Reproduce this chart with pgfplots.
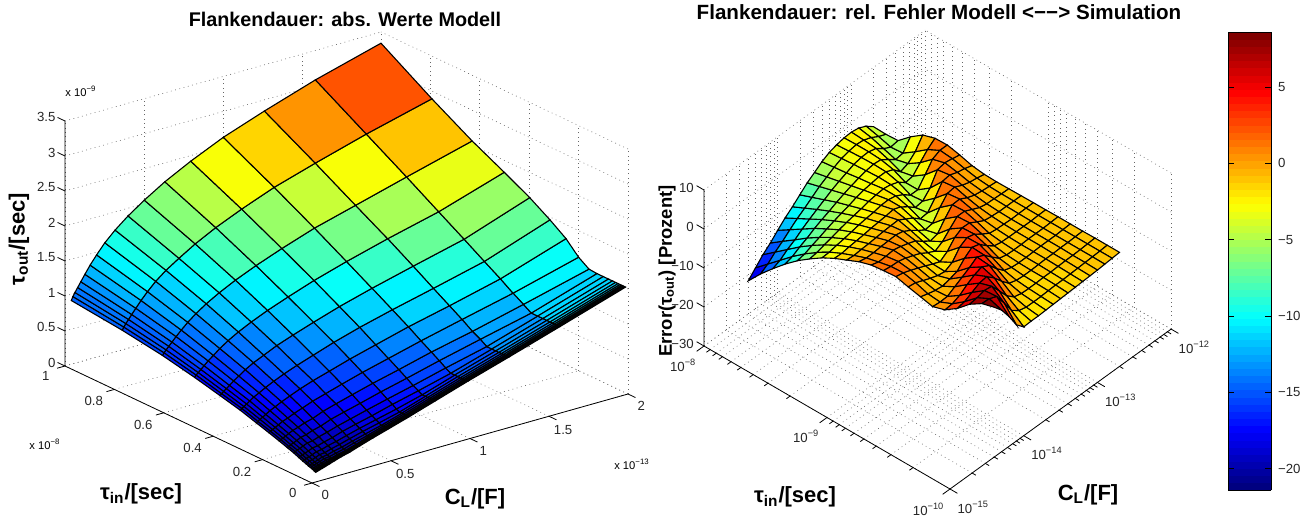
\documentclass[border=0pt]{standalone}
\usepackage{pgfplots}
\usepackage{fontspec}
\setmainfont{Liberation Sans}
\pgfplotsset{compat=1.18}
\pgfplotsset{colormap/jet, colormap={jetsf}{samples of colormap=(64 of jet)}}
\pgfplotsset{common/.style={
  colormap name=jetsf, colormap access=piecewise constant,
  axis line style={draw=none}, grid=major,
  grid style={black!60, line width=0.3pt, dash pattern=on 0.4pt off 1.8pt},
  minor grid style={black!60, line width=0.3pt, dash pattern=on 0.4pt off 1.8pt},
  tick align=outside, major tick length=3pt, minor tick length=1.6pt,
  tick style={draw=none},
  tick label style={font=\fontsize{6.6}{7}\selectfont, text=black!85},
  /pgf/number format/assume math mode=true,
  clip=false}}
\pgfplotsset{surfstyle/.style={surf, shader=flat corner, draw=black, line width=0.55pt,
  z buffer=sort, mesh/ordering=y varies, mesh/rows=21, mesh/cols=18}}
\tikzset{axl/.style={black,line width=0.4pt}}
\begin{document}
\begin{tikzpicture}[x=0.5pt,y=0.5pt]
\useasboundingbox (0,0) rectangle (1306,516);
\begin{axis}[common, anchor=south west, at={(32.5pt,16.5pt)},
  x={(79pt,22.25pt)}, y={(-123.5pt,58.5pt)}, z={(0pt,35pt)},
  xmin=0,xmax=2,ymin=0,ymax=1,zmin=0,zmax=3.5,
  xtick={0,0.5,1,1.5,2}, ytick={0,0.2,0.4,0.6,0.8,1}, ztick={0,0.5,1,1.5,2,2.5,3,3.5},
  xticklabels={0,0.5,1,1.5,2}, yticklabels={0,0.2,0.4,0.6,0.8,1}, zticklabels={0,0.5,1,1.5,2,2.5,3,3.5},
  xticklabel style={yshift=1.5pt}, yticklabel style={xshift=-2pt,yshift=2pt}, zticklabel style={xshift=1.5pt},
  point meta min=0.11, point meta max=3.34]
\addplot3[surfstyle] table[row sep=\\, header=false] {
0.04 0.01 .11\\0.04 0.013 .114\\0.04 0.016 .118\\0.04 0.02 .126\\0.04 0.025 .134\\0.04 0.032 .142\\0.04 0.04 .15\\0.04 0.05 .166\\0.04 0.063 .182\\0.04 0.079 .206\\0.04 0.1 .238\\0.04 0.126 .27\\0.04 0.158 .31\\0.04 0.2 .358\\0.04 0.251 .414\\0.04 0.316 .486\\0.04 0.398 .558\\0.04 0.501 .646\\0.04 0.631 .742\\0.04 0.794 .83\\0.04 1 .91\\
0.05 0.01 .12\\0.05 0.013 .124\\0.05 0.016 .128\\0.05 0.02 .137\\0.05 0.025 .145\\0.05 0.032 .153\\0.05 0.04 .161\\0.05 0.05 .177\\0.05 0.063 .194\\0.05 0.079 .218\\0.05 0.1 .25\\0.05 0.126 .283\\0.05 0.158 .325\\0.05 0.2 .375\\0.05 0.251 .43\\0.05 0.316 .506\\0.05 0.398 .58\\0.05 0.501 .674\\0.05 0.631 .775\\0.05 0.794 .87\\0.05 1 .96\\
0.063 0.01 .13\\0.063 0.013 .134\\0.063 0.016 .139\\0.063 0.02 .148\\0.063 0.025 .156\\0.063 0.032 .164\\0.063 0.04 .173\\0.063 0.05 .19\\0.063 0.063 .207\\0.063 0.079 .231\\0.063 0.1 .265\\0.063 0.126 .298\\0.063 0.158 .34\\0.063 0.2 .391\\0.063 0.251 .451\\0.063 0.316 .527\\0.063 0.398 .605\\0.063 0.501 .702\\0.063 0.631 .808\\0.063 0.794 .911\\0.063 1 1.01\\
0.08 0.01 .14\\0.08 0.013 .145\\0.08 0.016 .149\\0.08 0.02 .159\\0.08 0.025 .167\\0.08 0.032 .176\\0.08 0.04 .185\\0.08 0.05 .201\\0.08 0.063 .219\\0.08 0.079 .245\\0.08 0.1 .279\\0.08 0.126 .314\\0.08 0.158 .357\\0.08 0.2 .41\\0.08 0.251 .472\\0.08 0.316 .551\\0.08 0.398 .634\\0.08 0.501 .735\\0.08 0.631 .848\\0.08 0.794 .959\\0.08 1 1.07\\
0.1 0.01 .155\\0.1 0.013 .16\\0.1 0.016 .165\\0.1 0.02 .175\\0.1 0.025 .184\\0.1 0.032 .192\\0.1 0.04 .202\\0.1 0.05 .219\\0.1 0.063 .238\\0.1 0.079 .263\\0.1 0.1 .299\\0.1 0.126 .334\\0.1 0.158 .38\\0.1 0.2 .434\\0.1 0.251 .499\\0.1 0.316 .581\\0.1 0.398 .667\\0.1 0.501 .776\\0.1 0.631 .896\\0.1 0.794 1.017\\0.1 1 1.14\\
0.126 0.01 .175\\0.126 0.013 .18\\0.126 0.016 .186\\0.126 0.02 .196\\0.126 0.025 .206\\0.126 0.032 .215\\0.126 0.04 .225\\0.126 0.05 .243\\0.126 0.063 .262\\0.126 0.079 .289\\0.126 0.1 .325\\0.126 0.126 .363\\0.126 0.158 .409\\0.126 0.2 .467\\0.126 0.251 .535\\0.126 0.316 .622\\0.126 0.398 .714\\0.126 0.501 .828\\0.126 0.631 .958\\0.126 0.794 1.09\\0.126 1 1.23\\
0.159 0.01 .2\\0.159 0.013 .2\\0.159 0.016 .203\\0.159 0.02 .208\\0.159 0.025 .213\\0.159 0.032 .223\\0.159 0.04 .235\\0.159 0.05 .25\\0.159 0.063 .274\\0.159 0.079 .3\\0.159 0.1 .336\\0.159 0.126 .379\\0.159 0.158 .433\\0.159 0.2 .494\\0.159 0.251 .57\\0.159 0.316 .66\\0.159 0.398 .763\\0.159 0.501 .886\\0.159 0.631 1.03\\0.159 0.794 1.18\\0.159 1 1.34\\
0.2 0.01 .23\\0.2 0.013 .23\\0.2 0.016 .23\\0.2 0.02 .234\\0.2 0.025 .238\\0.2 0.032 .245\\0.2 0.04 .262\\0.2 0.05 .279\\0.2 0.063 .303\\0.2 0.079 .328\\0.2 0.1 .368\\0.2 0.126 .413\\0.2 0.158 .469\\0.2 0.2 .535\\0.2 0.251 .615\\0.2 0.316 .71\\0.2 0.398 .828\\0.2 0.501 .957\\0.2 0.631 1.114\\0.2 0.794 1.28\\0.2 1 1.46\\
0.252 0.01 .26\\0.252 0.013 .26\\0.252 0.016 .26\\0.252 0.02 .26\\0.252 0.025 .266\\0.252 0.032 .274\\0.252 0.04 .287\\0.252 0.05 .308\\0.252 0.063 .33\\0.252 0.079 .358\\0.252 0.1 .4\\0.252 0.126 .444\\0.252 0.158 .5\\0.252 0.2 .578\\0.252 0.251 .665\\0.252 0.316 .767\\0.252 0.398 .894\\0.252 0.501 1.037\\0.252 0.631 1.206\\0.252 0.794 1.395\\0.252 1 1.6\\
0.317 0.01 .31\\0.317 0.013 .31\\0.317 0.016 .31\\0.317 0.02 .31\\0.317 0.025 .31\\0.317 0.032 .32\\0.317 0.04 .33\\0.317 0.05 .35\\0.317 0.063 .373\\0.317 0.079 .406\\0.317 0.1 .446\\0.317 0.126 .5\\0.317 0.158 .56\\0.317 0.2 .635\\0.317 0.251 .725\\0.317 0.316 .83\\0.317 0.398 .96\\0.317 0.501 1.12\\0.317 0.631 1.305\\0.317 0.794 1.51\\0.317 1 1.74\\
0.399 0.01 .37\\0.399 0.013 .37\\0.399 0.016 .37\\0.399 0.02 .37\\0.399 0.025 .37\\0.399 0.032 .37\\0.399 0.04 .38\\0.399 0.05 .4\\0.399 0.063 .423\\0.399 0.079 .454\\0.399 0.1 .495\\0.399 0.126 .55\\0.399 0.158 .615\\0.399 0.2 .69\\0.399 0.251 .79\\0.399 0.316 .9\\0.399 0.398 1.045\\0.399 0.501 1.21\\0.399 0.631 1.41\\0.399 0.794 1.63\\0.399 1 1.89\\
0.502 0.01 .44\\0.502 0.013 .44\\0.502 0.016 .44\\0.502 0.02 .44\\0.502 0.025 .44\\0.502 0.032 .44\\0.502 0.04 .44\\0.502 0.05 .456\\0.502 0.063 .48\\0.502 0.079 .51\\0.502 0.1 .556\\0.502 0.126 .61\\0.502 0.158 .68\\0.502 0.2 .76\\0.502 0.251 .86\\0.502 0.316 .98\\0.502 0.398 1.13\\0.502 0.501 1.31\\0.502 0.631 1.525\\0.502 0.794 1.77\\0.502 1 2.05\\
0.632 0.01 .53\\0.632 0.013 .53\\0.632 0.016 .53\\0.632 0.02 .53\\0.632 0.025 .53\\0.632 0.032 .53\\0.632 0.04 .53\\0.632 0.05 .53\\0.632 0.063 .55\\0.632 0.079 .59\\0.632 0.1 .63\\0.632 0.126 .69\\0.632 0.158 .76\\0.632 0.2 .845\\0.632 0.251 .95\\0.632 0.316 1.08\\0.632 0.398 1.23\\0.632 0.501 1.42\\0.632 0.631 1.65\\0.632 0.794 1.92\\0.632 1 2.23\\
0.796 0.01 .65\\0.796 0.013 .65\\0.796 0.016 .65\\0.796 0.02 .65\\0.796 0.025 .65\\0.796 0.032 .65\\0.796 0.04 .65\\0.796 0.05 .65\\0.796 0.063 .65\\0.796 0.079 .68\\0.796 0.1 .72\\0.796 0.126 .78\\0.796 0.158 .85\\0.796 0.2 .94\\0.796 0.251 1.05\\0.796 0.316 1.19\\0.796 0.398 1.35\\0.796 0.501 1.55\\0.796 0.631 1.79\\0.796 0.794 2.08\\0.796 1 2.42\\
1.002 0.01 .8\\1.002 0.013 .8\\1.002 0.016 .8\\1.002 0.02 .8\\1.002 0.025 .8\\1.002 0.032 .8\\1.002 0.04 .8\\1.002 0.05 .8\\1.002 0.063 .8\\1.002 0.079 .8\\1.002 0.1 .84\\1.002 0.126 .9\\1.002 0.158 .97\\1.002 0.2 1.06\\1.002 0.251 1.175\\1.002 0.316 1.31\\1.002 0.398 1.48\\1.002 0.501 1.69\\1.002 0.631 1.95\\1.002 0.794 2.26\\1.002 1 2.63\\
1.262 0.01 .98\\1.262 0.013 .98\\1.262 0.016 .98\\1.262 0.02 .98\\1.262 0.025 .98\\1.262 0.032 .98\\1.262 0.04 .98\\1.262 0.05 .98\\1.262 0.063 .98\\1.262 0.079 .98\\1.262 0.1 .98\\1.262 0.126 1.04\\1.262 0.158 1.1\\1.262 0.2 1.2\\1.262 0.251 1.31\\1.262 0.316 1.45\\1.262 0.398 1.63\\1.262 0.501 1.85\\1.262 0.631 2.11\\1.262 0.794 2.44\\1.262 1 2.84\\
1.585 0.01 1.21\\1.585 0.013 1.21\\1.585 0.016 1.21\\1.585 0.02 1.21\\1.585 0.025 1.21\\1.585 0.032 1.21\\1.585 0.04 1.21\\1.585 0.05 1.21\\1.585 0.063 1.21\\1.585 0.079 1.21\\1.585 0.1 1.21\\1.585 0.126 1.21\\1.585 0.158 1.28\\1.585 0.2 1.37\\1.585 0.251 1.49\\1.585 0.316 1.63\\1.585 0.398 1.81\\1.585 0.501 2.03\\1.585 0.631 2.31\\1.585 0.794 2.65\\1.585 1 3.08\\
2 0.01 1.51\\2 0.013 1.51\\2 0.016 1.51\\2 0.02 1.51\\2 0.025 1.51\\2 0.032 1.51\\2 0.04 1.51\\2 0.05 1.51\\2 0.063 1.51\\2 0.079 1.51\\2 0.1 1.51\\2 0.126 1.51\\2 0.158 1.52\\2 0.2 1.62\\2 0.251 1.80\\2 0.316 1.96\\2 0.398 2.14\\2 0.501 2.33\\2 0.631 2.56\\2 0.794 2.89\\2 1 3.34\\
};
\draw[axl] (axis cs:0,0,0)--(axis cs:2,0,0) (axis cs:0,0,0)--(axis cs:0,1,0) (axis cs:0,1,0)--(axis cs:0,1,3.5);
\pgfplotsinvokeforeach{0,0.5,1,1.5,2}{\draw[axl] (axis cs:#1,0,0)--(axis cs:#1,-0.03,0);}
\pgfplotsinvokeforeach{0,0.2,0.4,0.6,0.8,1}{\draw[axl] (axis cs:0,#1,0)--(axis cs:-0.05,#1,0);}
\pgfplotsinvokeforeach{0,0.5,1,1.5,2,2.5,3,3.5}{\draw[axl] (axis cs:0,1,#1)--(axis cs:0,1.03,#1);}
\end{axis}
\begin{axis}[common, anchor=south west, at={(352pt,13.5pt)},
  x={(36.85pt,26.65pt)}, y={(-61.5pt,35.75pt)}, z={(0pt,1.95pt)},
  xmin=-15,xmax=-12,ymin=-10,ymax=-8,zmin=-30,zmax=10,
  xtick={-15,-14,-13,-12}, ytick={-10,-9,-8}, ztick={-30,-20,-10,0,10},
  xticklabels={10\textsuperscript{−15},10\textsuperscript{−14},10\textsuperscript{−13},10\textsuperscript{−12}},
  yticklabels={10\textsuperscript{−10},10\textsuperscript{−9},10\textsuperscript{−8}},
  zticklabels={−30,−20,−10,0,10},
  xticklabel style={xshift=3pt,yshift=3pt}, yticklabel style={xshift=-3pt,yshift=2pt}, zticklabel style={xshift=1pt},
  minor xtick={-14.7,-14.52,-14.4,-14.3,-14.22,-14.15,-14.1,-14.05,-13.7,-13.52,-13.4,-13.3,-13.22,-13.15,-13.1,-13.05,-12.7,-12.52,-12.4,-12.3,-12.22,-12.15,-12.1,-12.05},
  minor ytick={-9.7,-9.52,-9.4,-9.3,-9.22,-9.15,-9.1,-9.05,-8.7,-8.52,-8.4,-8.3,-8.22,-8.15,-8.1,-8.05},
  xminorgrids, yminorgrids,
  point meta min=-21.5, point meta max=8.5]
\addplot3[surfstyle] table[row sep=\\, header=false] {
-14.4 -10 8.4\\-14.4 -9.9 7.5\\-14.4 -9.8 5.5\\-14.4 -9.7 2.6\\-14.4 -9.6 .4\\-14.4 -9.5 -.6\\-14.4 -9.4 .1\\-14.4 -9.3 .8\\-14.4 -9.2 1.6\\-14.4 -9.1 1.3\\-14.4 -9 .9\\-14.4 -8.9 -.1\\-14.4 -8.8 -1.5\\-14.4 -8.7 -2.9\\-14.4 -8.6 -4.6\\-14.4 -8.5 -6.7\\-14.4 -8.4 -9\\-14.4 -8.3 -11.7\\-14.4 -8.2 -14.7\\-14.4 -8.1 -17.9\\-14.4 -8 -21.5\\
-14.3 -10 6.3\\-14.3 -9.9 7.4\\-14.3 -9.8 5.8\\-14.3 -9.7 3\\-14.3 -9.6 .6\\-14.3 -9.5 -.8\\-14.3 -9.4 -.5\\-14.3 -9.3 .5\\-14.3 -9.2 1.2\\-14.3 -9.1 1\\-14.3 -9 .3\\-14.3 -8.9 -.5\\-14.3 -8.8 -1.7\\-14.3 -8.7 -3\\-14.3 -8.6 -4.5\\-14.3 -8.5 -6.4\\-14.3 -8.4 -8.6\\-14.3 -8.3 -11.1\\-14.3 -8.2 -13.9\\-14.3 -8.1 -16.7\\-14.3 -8 -19.5\\
-14.2 -10 3.3\\-14.2 -9.9 6.6\\-14.2 -9.8 6.3\\-14.2 -9.7 4\\-14.2 -9.6 1.4\\-14.2 -9.5 -.7\\-14.2 -9.4 -1\\-14.2 -9.3 -.3\\-14.2 -9.2 .5\\-14.2 -9.1 .9\\-14.2 -9 .4\\-14.2 -8.9 -.5\\-14.2 -8.8 -1.5\\-14.2 -8.7 -2.7\\-14.2 -8.6 -4.1\\-14.2 -8.5 -5.8\\-14.2 -8.4 -7.8\\-14.2 -8.3 -10\\-14.2 -8.2 -12.5\\-14.2 -8.1 -15\\-14.2 -8 -17.5\\
-14.1 -10 -.2\\-14.1 -9.9 3.6\\-14.1 -9.8 6\\-14.1 -9.7 5\\-14.1 -9.6 2.8\\-14.1 -9.5 .4\\-14.1 -9.4 -1.3\\-14.1 -9.3 -1.1\\-14.1 -9.2 -.3\\-14.1 -9.1 .4\\-14.1 -9 .6\\-14.1 -8.9 -.3\\-14.1 -8.8 -1.4\\-14.1 -8.7 -2.5\\-14.1 -8.6 -3.8\\-14.1 -8.5 -5.3\\-14.1 -8.4 -7.1\\-14.1 -8.3 -9.1\\-14.1 -8.2 -11.4\\-14.1 -8.1 -13.6\\-14.1 -8 -15.9\\
-14 -10 -2.1\\-14 -9.9 .3\\-14 -9.8 3.5\\-14 -9.7 5.3\\-14 -9.6 3.9\\-14 -9.5 1.5\\-14 -9.4 -.8\\-14 -9.3 -1.8\\-14 -9.2 -1.1\\-14 -9.1 -.3\\-14 -9 .2\\-14 -8.9 -.2\\-14 -8.8 -1.2\\-14 -8.7 -2.3\\-14 -8.6 -3.4\\-14 -8.5 -4.7\\-14 -8.4 -6.3\\-14 -8.3 -8\\-14 -8.2 -10\\-14 -8.1 -12\\-14 -8 -14\\
-13.9 -10 -2\\-13.9 -9.9 -1.1\\-13.9 -9.8 .9\\-13.9 -9.7 3.6\\-13.9 -9.6 4.6\\-13.9 -9.5 2.6\\-13.9 -9.4 -.2\\-13.9 -9.3 -2.1\\-13.9 -9.2 -2\\-13.9 -9.1 -1.1\\-13.9 -9 -.4\\-13.9 -8.9 -.1\\-13.9 -8.8 -1\\-13.9 -8.7 -2\\-13.9 -8.6 -3\\-13.9 -8.5 -4.2\\-13.9 -8.4 -5.6\\-13.9 -8.3 -7.1\\-13.9 -8.2 -8.8\\-13.9 -8.1 -10.5\\-13.9 -8 -12.2\\
-13.8 -10 -2\\-13.8 -9.9 -1.6\\-13.8 -9.8 -.8\\-13.8 -9.7 1.4\\-13.8 -9.6 3.6\\-13.8 -9.5 3.9\\-13.8 -9.4 1.8\\-13.8 -9.3 -1.1\\-13.8 -9.2 -2.8\\-13.8 -9.1 -2.3\\-13.8 -9 -1.1\\-13.8 -8.9 -.5\\-13.8 -8.8 -.9\\-13.8 -8.7 -1.8\\-13.8 -8.6 -2.7\\-13.8 -8.5 -3.8\\-13.8 -8.4 -5\\-13.8 -8.3 -6.3\\-13.8 -8.2 -7.7\\-13.8 -8.1 -9.2\\-13.8 -8 -10.7\\
-13.7 -10 -1.9\\-13.7 -9.9 -1.6\\-13.7 -9.8 -1.3\\-13.7 -9.7 -.5\\-13.7 -9.6 1.4\\-13.7 -9.5 3\\-13.7 -9.4 3.2\\-13.7 -9.3 1.4\\-13.7 -9.2 -1.5\\-13.7 -9.1 -3.3\\-13.7 -9 -2.6\\-13.7 -8.9 -1.6\\-13.7 -8.8 -.8\\-13.7 -8.7 -1.6\\-13.7 -8.6 -2.5\\-13.7 -8.5 -3.4\\-13.7 -8.4 -4.4\\-13.7 -8.3 -5.4\\-13.7 -8.2 -6.6\\-13.7 -8.1 -7.8\\-13.7 -8 -9\\
-13.6 -10 -1.8\\-13.6 -9.9 -1.6\\-13.6 -9.8 -1.4\\-13.6 -9.7 -1.1\\-13.6 -9.6 -.4\\-13.6 -9.5 1.2\\-13.6 -9.4 2.6\\-13.6 -9.3 2.5\\-13.6 -9.2 .7\\-13.6 -9.1 -2.2\\-13.6 -9 -3.9\\-13.6 -8.9 -3\\-13.6 -8.8 -1.9\\-13.6 -8.7 -1.3\\-13.6 -8.6 -2.1\\-13.6 -8.5 -2.9\\-13.6 -8.4 -3.7\\-13.6 -8.3 -4.6\\-13.6 -8.2 -5.5\\-13.6 -8.1 -6.4\\-13.6 -8 -7.3\\
-13.5 -10 -1.7\\-13.5 -9.9 -1.5\\-13.5 -9.8 -1.4\\-13.5 -9.7 -1.3\\-13.5 -9.6 -1\\-13.5 -9.5 -.5\\-13.5 -9.4 .9\\-13.5 -9.3 2\\-13.5 -9.2 1.8\\-13.5 -9.1 -.3\\-13.5 -9 -3.4\\-13.5 -8.9 -4.2\\-13.5 -8.8 -3\\-13.5 -8.7 -2\\-13.5 -8.6 -2\\-13.5 -8.5 -2.6\\-13.5 -8.4 -3.2\\-13.5 -8.3 -3.9\\-13.5 -8.2 -4.6\\-13.5 -8.1 -5.3\\-13.5 -8 -6\\
-13.4 -10 -1.6\\-13.4 -9.9 -1.4\\-13.4 -9.8 -1.3\\-13.4 -9.7 -1.3\\-13.4 -9.6 -1.2\\-13.4 -9.5 -1\\-13.4 -9.4 -.5\\-13.4 -9.3 .7\\-13.4 -9.2 1.7\\-13.4 -9.1 1.5\\-13.4 -9 -.9\\-13.4 -8.9 -3.9\\-13.4 -8.8 -4.6\\-13.4 -8.7 -3.3\\-13.4 -8.6 -2.4\\-13.4 -8.5 -2.4\\-13.4 -8.4 -2.9\\-13.4 -8.3 -3.3\\-13.4 -8.2 -3.8\\-13.4 -8.1 -4.2\\-13.4 -8 -4.6\\
-13.3 -10 -1.5\\-13.3 -9.9 -1.4\\-13.3 -9.8 -1.3\\-13.3 -9.7 -1.2\\-13.3 -9.6 -1.2\\-13.3 -9.5 -1.1\\-13.3 -9.4 -.9\\-13.3 -9.3 -.5\\-13.3 -9.2 .6\\-13.3 -9.1 1.5\\-13.3 -9 1.3\\-13.3 -8.9 -1.2\\-13.3 -8.8 -4.4\\-13.3 -8.7 -4.9\\-13.3 -8.6 -3.4\\-13.3 -8.5 -2.7\\-13.3 -8.4 -2.6\\-13.3 -8.3 -2.8\\-13.3 -8.2 -3\\-13.3 -8.1 -3.3\\-13.3 -8 -3.6\\
-13.2 -10 -1.4\\-13.2 -9.9 -1.3\\-13.2 -9.8 -1.2\\-13.2 -9.7 -1.1\\-13.2 -9.6 -1.1\\-13.2 -9.5 -1.1\\-13.2 -9.4 -1\\-13.2 -9.3 -.8\\-13.2 -9.2 -.4\\-13.2 -9.1 .6\\-13.2 -9 1.4\\-13.2 -8.9 1\\-13.2 -8.8 -2\\-13.2 -8.7 -4.6\\-13.2 -8.6 -4.9\\-13.2 -8.5 -3.4\\-13.2 -8.4 -2.6\\-13.2 -8.3 -2.5\\-13.2 -8.2 -2.6\\-13.2 -8.1 -2.8\\-13.2 -8 -3\\
-13.1 -10 -1.3\\-13.1 -9.9 -1.2\\-13.1 -9.8 -1.1\\-13.1 -9.7 -1.1\\-13.1 -9.6 -1\\-13.1 -9.5 -1\\-13.1 -9.4 -1\\-13.1 -9.3 -.9\\-13.1 -9.2 -.7\\-13.1 -9.1 -.3\\-13.1 -9 .4\\-13.1 -8.9 1.3\\-13.1 -8.8 .9\\-13.1 -8.7 -2.6\\-13.1 -8.6 -4.9\\-13.1 -8.5 -4.9\\-13.1 -8.4 -3.4\\-13.1 -8.3 -2.7\\-13.1 -8.2 -2.5\\-13.1 -8.1 -2.5\\-13.1 -8 -2.6\\
-13 -10 -1.2\\-13 -9.9 -1.1\\-13 -9.8 -1.1\\-13 -9.7 -1\\-13 -9.6 -1\\-13 -9.5 -1\\-13 -9.4 -1\\-13 -9.3 -1\\-13 -9.2 -.9\\-13 -9.1 -.7\\-13 -9 -.3\\-13 -8.9 .4\\-13 -8.8 1.2\\-13 -8.7 .7\\-13 -8.6 -2.4\\-13 -8.5 -4.6\\-13 -8.4 -5.3\\-13 -8.3 -4\\-13 -8.2 -3\\-13 -8.1 -2.7\\-13 -8 -2.5\\
-12.9 -10 -1.05\\-12.9 -9.9 -1\\-12.9 -9.8 -1\\-12.9 -9.7 -1\\-12.9 -9.6 -1\\-12.9 -9.5 -1\\-12.9 -9.4 -1\\-12.9 -9.3 -.95\\-12.9 -9.2 -.9\\-12.9 -9.1 -.8\\-12.9 -9 -.6\\-12.9 -8.9 -.2\\-12.9 -8.8 .5\\-12.9 -8.7 1.1\\-12.9 -8.6 .2\\-12.9 -8.5 -2.5\\-12.9 -8.4 -4.6\\-12.9 -8.3 -5.4\\-12.9 -8.2 -4.4\\-12.9 -8.1 -3.4\\-12.9 -8 -2.8\\
-12.8 -10 -.9\\-12.8 -9.9 -.9\\-12.8 -9.8 -.9\\-12.8 -9.7 -.9\\-12.8 -9.6 -.9\\-12.8 -9.5 -.9\\-12.8 -9.4 -.9\\-12.8 -9.3 -.9\\-12.8 -9.2 -.9\\-12.8 -9.1 -.9\\-12.8 -9 -.8\\-12.8 -8.9 -.5\\-12.8 -8.8 .1\\-12.8 -8.7 .8\\-12.8 -8.6 1.1\\-12.8 -8.5 -.5\\-12.8 -8.4 -2.9\\-12.8 -8.3 -5.1\\-12.8 -8.2 -5.4\\-12.8 -8.1 -4.5\\-12.8 -8 -3.7\\
-12.7 -10 -.75\\-12.7 -9.9 -.75\\-12.7 -9.8 -.75\\-12.7 -9.7 -.8\\-12.7 -9.6 -.8\\-12.7 -9.5 -.8\\-12.7 -9.4 -.85\\-12.7 -9.3 -.85\\-12.7 -9.2 -.9\\-12.7 -9.1 -.95\\-12.7 -9 -1\\-12.7 -8.9 -.9\\-12.7 -8.8 -.5\\-12.7 -8.7 .4\\-12.7 -8.6 1.1\\-12.7 -8.5 1\\-12.7 -8.4 0\\-12.7 -8.3 -2.3\\-12.7 -8.2 -5.1\\-12.7 -8.1 -5.3\\-12.7 -8 -5.2\\
};
\draw[axl] (axis cs:-15,-10,-30)--(axis cs:-12,-10,-30) (axis cs:-15,-10,-30)--(axis cs:-15,-8,-30) (axis cs:-15,-8,-30)--(axis cs:-15,-8,10);
\pgfplotsinvokeforeach{-15,-14,-13,-12}{\draw[axl] (axis cs:#1,-10,-30)--(axis cs:#1,-10.06,-30);}
\pgfplotsinvokeforeach{-14.7,-14.52,-14.4,-14.3,-14.22,-14.15,-14.1,-14.05,-13.7,-13.52,-13.4,-13.3,-13.22,-13.15,-13.1,-13.05,-12.7,-12.52,-12.4,-12.3,-12.22,-12.15,-12.1,-12.05}{\draw[axl] (axis cs:#1,-10,-30)--(axis cs:#1,-10.03,-30);}
\pgfplotsinvokeforeach{-10,-9,-8}{\draw[axl] (axis cs:-15,#1,-30)--(axis cs:-15.1,#1,-30);}
\pgfplotsinvokeforeach{-9.7,-9.52,-9.4,-9.3,-9.22,-9.15,-9.1,-9.05,-8.7,-8.52,-8.4,-8.3,-8.22,-8.15,-8.1,-8.05}{\draw[axl] (axis cs:-15,#1,-30)--(axis cs:-15.05,#1,-30);}
\pgfplotsinvokeforeach{-30,-20,-10,0,10}{\draw[axl] (axis cs:-15,-8,#1)--(axis cs:-15,-7.94,#1);}
\end{axis}
\begin{axis}[anchor=south west, at={(614pt,13pt)}, scale only axis, width=0.1pt, height=229pt, hide axis,
  xmin=0,xmax=1,ymin=0,ymax=1,
  colormap name=jetsf, colormap access=piecewise constant,
  point meta min=-21.4, point meta max=8.6,
  colorbar sampled, colorbar style={samples=65, width=21.5pt, at={(0,0)}, anchor=south west, xshift=0pt,
    ytick={-20,-15,-10,-5,0,5}, yticklabels={−20,−15,−10,−5,0,5}, major tick length=3pt, tick style={black, line width=0.35pt},
    tick align=inside,
    yticklabel pos=right, ytick pos=both, yticklabel style={font=\fontsize{6.6}{7}\selectfont, text=black!85},
    /pgf/number format/assume math mode=true}]
\addplot[draw=none] coordinates {(0,0)};
\end{axis}
\def\labb{\fontsize{11}{12}\selectfont\bfseries}
\def\sca{\fontsize{5.6}{6}\selectfont}
\node[font=\fontsize{9.9}{11}\selectfont\bfseries] at (345,497) {Flankendauer: abs. Werte Modell};
\node[font=\fontsize{10.3}{11}\selectfont\bfseries] at (939,504) {Flankendauer: rel. Fehler Modell <−−> Simulation};
\node[font=\labb,rotate=90] at (19,277) {τ\textsubscript{out}/[sec]};
\node[font=\labb] at (141,22) {τ\textsubscript{in}/[sec]};
\node[font=\labb] at (475,17) {C\textsubscript{L}/[F]};
\node[font=\fontsize{9.2}{11}\selectfont\bfseries,rotate=90] at (667,245) {Error(τ\textsubscript{out}) [Prozent]};
\node[font=\labb] at (795,19) {τ\textsubscript{in}/[sec]};
\node[font=\labb] at (1088,21) {C\textsubscript{L}/[F]};
\node[font=\sca] at (81,425) {x 10\textsuperscript{−9}};
\node[font=\sca] at (45,72) {x 10\textsuperscript{−8}};
\node[font=\sca] at (632,52) {x 10\textsuperscript{−13}};
\end{tikzpicture}
\end{document}
